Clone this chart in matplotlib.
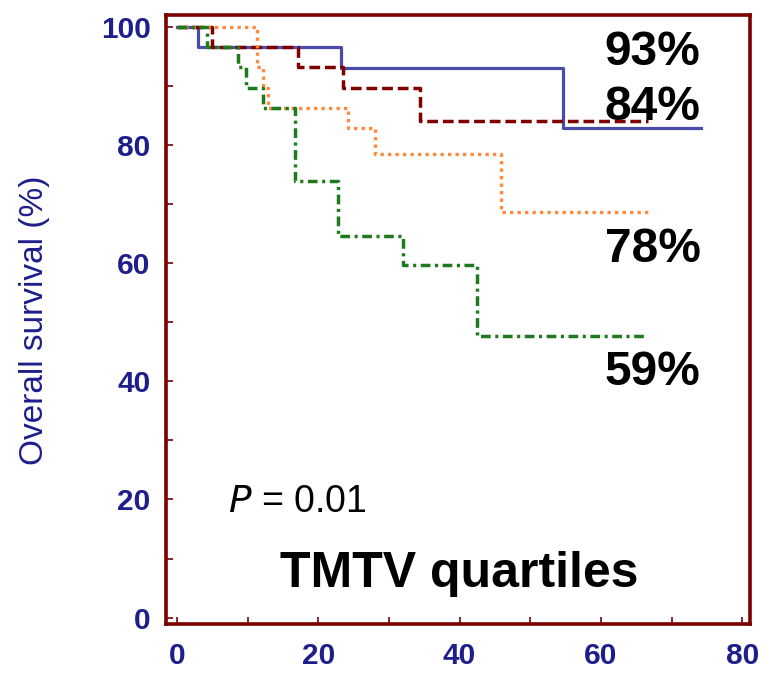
import numpy as np
import matplotlib
matplotlib.use("Agg")
import matplotlib.pyplot as plt

plt.rcParams['font.family'] = ['Liberation Sans', 'DejaVu Sans']

# Kaplan-Meier step data (months, survival %)
q1_time = [0, 3.0, 23.2, 54.7, 74.1]
q1_surv = [100, 96.6, 93.0, 82.8, 82.8]

q2_time = [0, 4.9, 17.1, 23.5, 34.4, 66.6]
q2_surv = [100, 96.6, 93.1, 89.6, 84.1, 84.1]

q3_time = [0, 11.3, 12.1, 12.9, 24.2, 28.0, 45.8, 66.6]
q3_surv = [100, 93.1, 89.7, 86.2, 82.8, 78.5, 68.6, 68.6]

q4_time = [0, 4.2, 8.6, 9.8, 12.2, 16.7, 22.8, 32.0, 42.5, 66.3]
q4_surv = [100, 96.6, 93.1, 89.6, 86.2, 73.9, 64.6, 59.7, 47.7, 47.7]

end_labels = ['93%', '84%', '78%', '59%']
end_label_y = [93.5, 84.2, 60.2, 39.4]

COLORS = {
    'q1': '#4B4BAA',
    'q2': '#800000',
    'q3': '#FF8A3D',
    'q4': '#1F7A1F',
    'frame': '#7A0000',
    'tick': '#1E1E8C',
}

fig = plt.figure(figsize=(7.65, 6.73), dpi=100)
ax = fig.add_axes([166 / 765, 1 - 624 / 673, (750 - 166) / 765, (624 - 15) / 673])

ax.step(q1_time, q1_surv, where='post', color=COLORS['q1'], lw=2.3, zorder=3)
ax.step(q2_time, q2_surv, where='post', color=COLORS['q2'], lw=2.5,
        dashes=(3.1, 1.4), zorder=4)
ax.step(q3_time, q3_surv, where='post', color=COLORS['q3'], lw=2.4,
        dashes=(1, 1.25), zorder=4)
ax.step(q4_time, q4_surv, where='post', color=COLORS['q4'], lw=2.5,
        dashes=(2.8, 1.3, 0.9, 1.3), zorder=5)

ax.set_xlim(-1.56, 81.1)
ax.set_ylim(-1.07, 101.98)

ax.set_xticks(np.arange(0, 81, 20))
ax.set_xticks(np.arange(10, 80, 20), minor=True)
ax.set_yticks(np.arange(0, 101, 20))
ax.set_yticks(np.arange(10, 100, 20), minor=True)

for side in ax.spines.values():
    side.set_color(COLORS['frame'])
    side.set_linewidth(2.6)

ax.tick_params(which='both', direction='in', length=5, width=1.2,
               color=COLORS['frame'], labelcolor=COLORS['tick'],
               labelsize=21.5)
ax.tick_params(axis='x', which='both', pad=13)
ax.tick_params(axis='y', which='both', pad=11)
for lbl in ax.get_xticklabels() + ax.get_yticklabels():
    lbl.set_fontweight('bold')

fig.text(35 / 765, 1 - 320 / 673, 'Overall survival (%)', rotation=90,
         ha='center', va='center', fontsize=24, color=COLORS['tick'])

for lab, yv in zip(end_labels, end_label_y):
    ax.text(74.1, yv, lab, ha='right', va='baseline', fontsize=34.5,
            fontweight='bold', color='black')

ax.text(7.2, 17.8, r'$\it{P}$ = 0.01', ha='left', va='baseline', fontsize=27)
ax.text(40.0, 5.2, 'TMTV quartiles', ha='center', va='baseline',
        fontsize=36, fontweight='bold')

fig.savefig('out.png', dpi=100)
